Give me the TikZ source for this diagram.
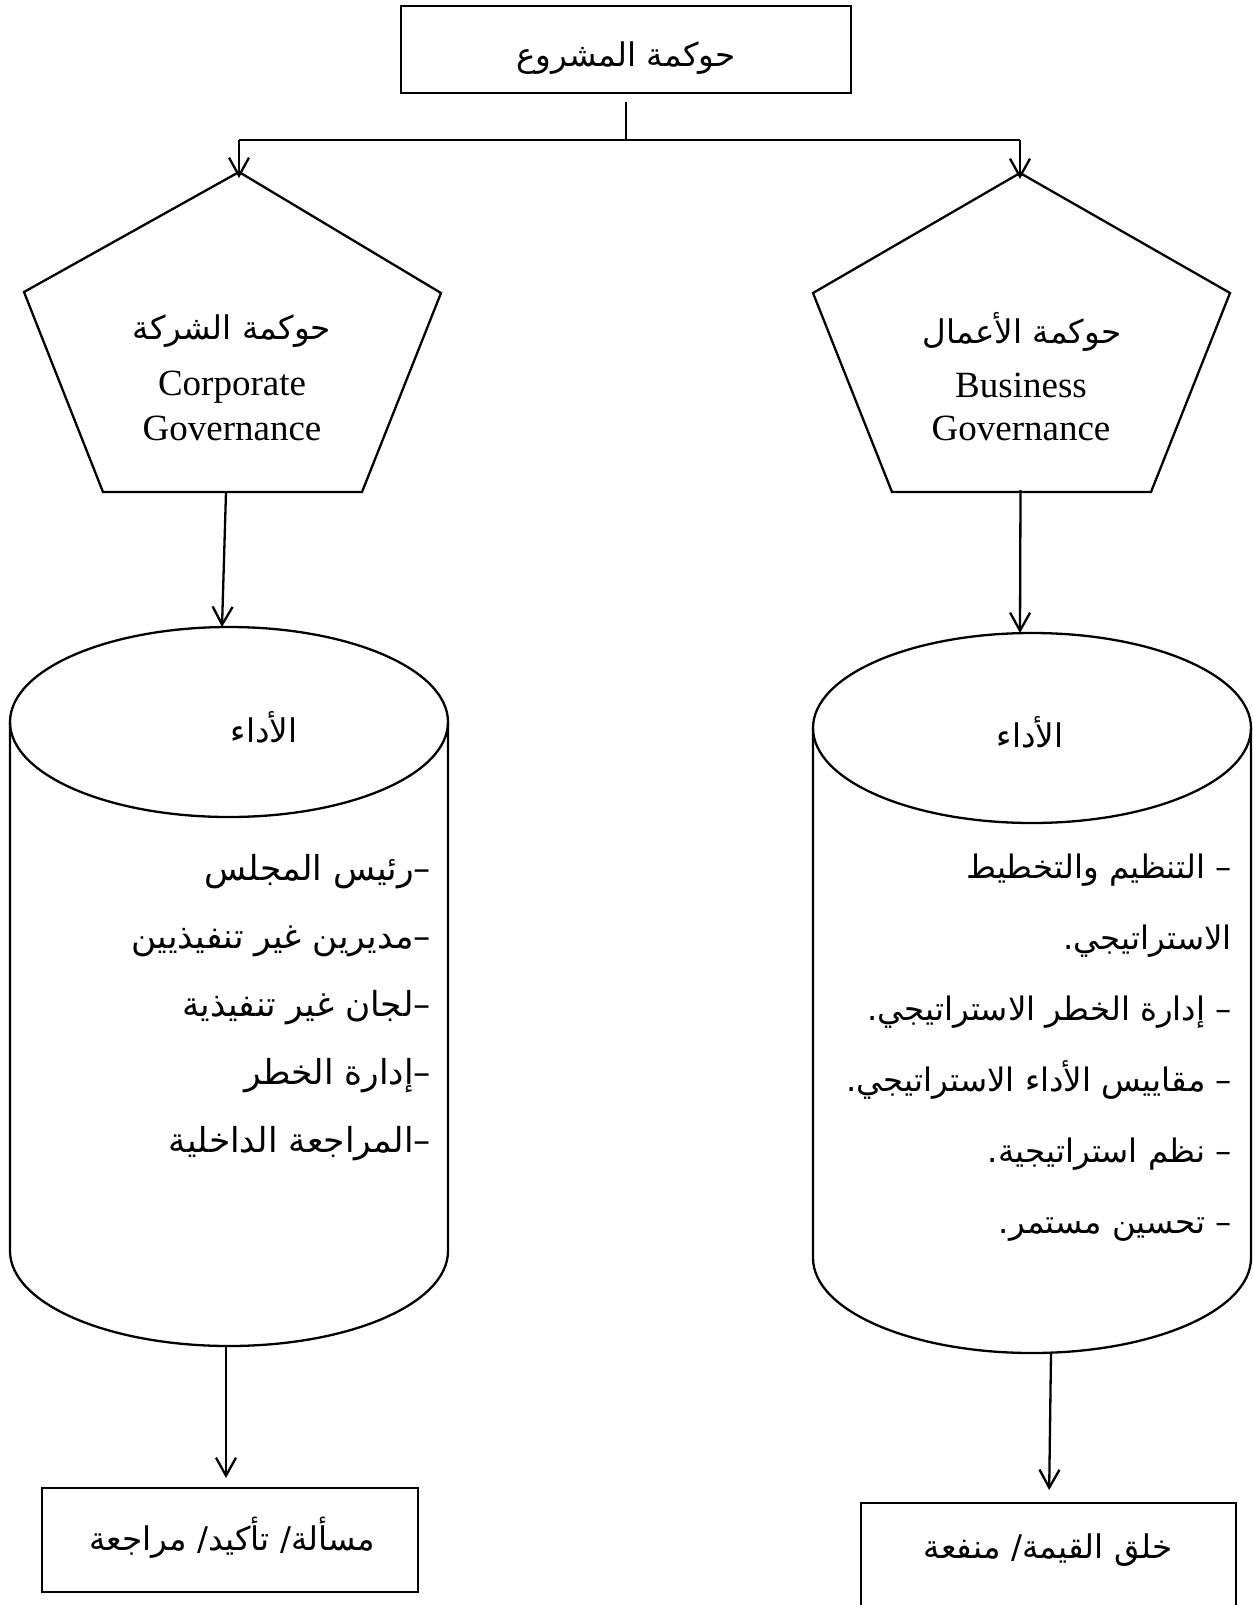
\documentclass[tikz,border=0pt]{standalone}
\usepackage{fontspec}
\setmainfont{Liberation Serif}
\newfontfamily\arabicfont[Script=Arabic]{DejaVu Sans}
\TeXXeTstate=1
\usetikzlibrary{arrows.meta}

\begin{document}
\begin{tikzpicture}[x=0.5pt, y=-0.5pt, line width=1.15pt,
  link/.style={-{Straight Barb[length=9pt,width=10pt]}},
  frame/.style={draw, rectangle, inner sep=0pt},
  arhead/.style={font=\arabicfont\fontsize{16.3}{20}\selectfont},
  arlist/.style={font=\arabicfont\fontsize{17.2}{34}\selectfont, align=right, inner sep=0pt},
  entext/.style={font=\fontsize{18.5}{21.5}\selectfont, inner sep=0pt}]
\clip (0,0) rectangle (1252,1605);

% project governance (top)
\node[frame, minimum width=225pt, minimum height=43.5pt] (proj) at (626,49.5) {};
\node[arhead] (projtext) at (626,58) {\beginR حوكمة المشروع\endR};
\coordinate (split) at (626,140);
\coordinate (lsplit) at (239,140);
\coordinate (rsplit) at (1020,140);
\draw[shorten <=4pt] (proj.south) -- (split);
\draw (lsplit) -- (rsplit);

% left pentagon: corporate governance
\draw (239,172) coordinate (lapex) -- (441,293) -- (362,492) -- (103,492) -- (24,292) -- cycle;
\coordinate (lpbot) at (226,492);
\node[arhead] (lar) at (232,331) {\beginR حوكمة الشركة\endR};
\node[entext] (lc1) at (232,387) {Corporate};
\node[entext] (lc2) at (232,428.5) {Governance};

% right pentagon: business governance
\draw (1020,173) coordinate (rapex) -- (1230,293) -- (1151,492) -- (892,492) -- (813,293) -- cycle;
\coordinate (rpbot) at (1020.5,490);
\node[arhead] (rar) at (1022,332) {\beginR حوكمة الأعمال\endR};
\node[entext] (rc1) at (1021,385) {Business};
\node[entext] (rc2) at (1021,428.5) {Governance};

\draw[link, shorten >=-3pt] (lsplit) -- (lapex);
\draw[link, shorten >=-3pt] (rsplit) -- (rapex);

% left cylinder
\draw (229,722) ellipse [x radius=219, y radius=95];
\draw (10,722) -- (10,1251) arc[start angle=180, end angle=0, x radius=219, y radius=95] -- (448,722);
\coordinate (lcyltop) at (222,627);
\coordinate (lcylbot) at (226,1346);
\node[arhead] (lperf) at (264,727) {\beginR الأداء\endR};
\node[arlist, anchor=east] (llist) at (432,1008) {%
  \beginR –رئيس المجلس\endR\\
  \beginR –مديرين غير تنفيذيين\endR\\
  \beginR –لجان غير تنفيذية\endR\\
  \beginR –إدارة الخطر\endR\\
  \beginR –المراجعة الداخلية\endR};

% right cylinder
\draw (1032,728) ellipse [x radius=219, y radius=95];
\draw (813,728) -- (813,1258) arc[start angle=180, end angle=0, x radius=219, y radius=95] -- (1251,728);
\coordinate (rcyltop) at (1020,633);
\coordinate (rcylbot) at (1051,1353);
\node[arhead] (rperf) at (1030,732) {\beginR الأداء\endR};
\node[arlist, anchor=east, font=\arabicfont\fontsize{16.2}{35.5}\selectfont] (rlist) at (1233,1048) {%
  \beginR – التنظيم والتخطيط\endR\\
  \beginR الاستراتيجي.\endR\\
  \beginR – إدارة الخطر الاستراتيجي.\endR\\
  \beginR – مقاييس الأداء الاستراتيجي.\endR\\
  \beginR – نظم استراتيجية.\endR\\
  \beginR – تحسين مستمر.\endR};

\draw[link] (lpbot) -- (lcyltop);
\draw[link] (rpbot) -- (rcyltop);

% outcome boxes
\node[frame, minimum width=188pt, minimum height=51.85pt] (lout) at (229.7,1540) {};
\node[arhead] (louttext) at (232,1538) {\beginR مسألة/ تأكيد/ مراجعة\endR};
\coordinate (routtop) at (1049,1503);
\draw (860.7,1503) rectangle (1236,1625);
\node[arhead] (routtext) at (1048,1550) {\beginR خلق القيمة/ منفعة\endR};

\draw[link, shorten >=4.5pt] (lcylbot) -- (lout.north -| lcylbot);
\draw[link, shorten >=6.5pt] (rcylbot) -- (routtop);
\end{tikzpicture}
\end{document}
